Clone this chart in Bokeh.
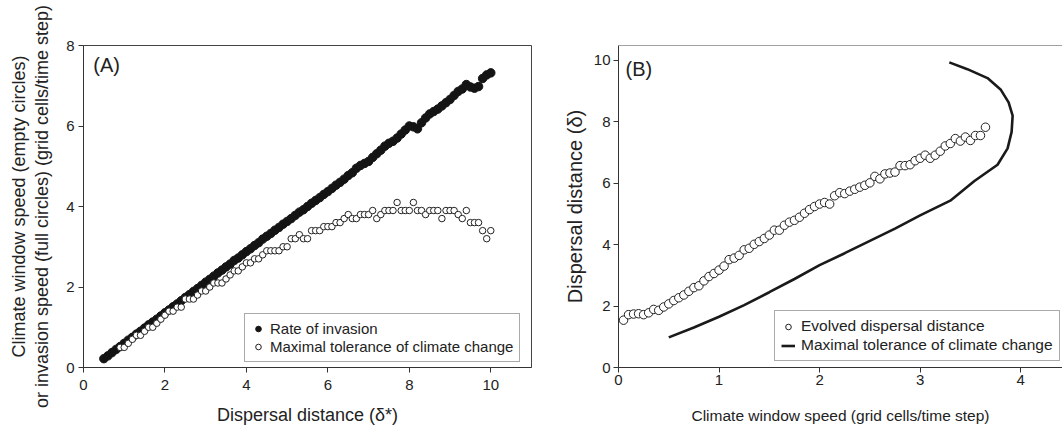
from bokeh.plotting import figure
from bokeh.layouts import row
from bokeh.models import Range1d, Legend, LegendItem, Label, Span, FixedTicker, LinearAxis
from bokeh.embed import file_html
from bokeh.resources import INLINE

FONT = "Liberation Sans"
TXT = "#222222"

# ---------------- Panel A data ----------------
full_x = [0.5, 0.6, 0.7, 0.8, 0.9, 1.0, 1.1, 1.2, 1.3, 1.4, 1.5, 1.6, 1.7, 1.8, 1.9, 2.0,
          2.1, 2.2, 2.3, 2.4, 2.5, 2.6, 2.7, 2.8, 2.9, 3.0, 3.1, 3.2, 3.3, 3.4, 3.5, 3.6,
          3.7, 3.8, 3.9, 4.0, 4.1, 4.2, 4.3, 4.4, 4.5, 4.6, 4.7, 4.8, 4.9, 5.0, 5.1, 5.2,
          5.3, 5.4, 5.5, 5.6, 5.7, 5.8, 5.9, 6.0, 6.1, 6.2, 6.3, 6.4, 6.5, 6.6, 6.7, 6.8,
          6.9, 7.0, 7.1, 7.2, 7.3, 7.4, 7.5, 7.6, 7.7, 7.8, 7.9, 8.0, 8.1, 8.2, 8.3, 8.4,
          8.5, 8.6, 8.7, 8.8, 8.9, 9.0, 9.1, 9.2, 9.3, 9.4, 9.5, 9.6, 9.7, 9.8, 9.9, 10.0]
full_y = [0.22, 0.29, 0.37, 0.45, 0.52, 0.60, 0.68, 0.75, 0.83, 0.90,
          0.98, 1.06, 1.13, 1.20, 1.28, 1.36, 1.43, 1.51, 1.58, 1.66,
          1.74, 1.81, 1.89, 1.96, 2.04, 2.12, 2.19, 2.27, 2.35, 2.42,
          2.50, 2.57, 2.66, 2.72, 2.80, 2.88, 2.95, 3.03, 3.10, 3.19,
          3.26, 3.33, 3.41, 3.48, 3.56, 3.63, 3.70, 3.78, 3.86, 3.92,
          4.00, 4.08, 4.15, 4.22, 4.30, 4.37, 4.45, 4.53, 4.60, 4.68,
          4.77, 4.84, 4.95, 5.02, 5.07, 5.12, 5.22, 5.31, 5.40, 5.50,
          5.57, 5.62, 5.70, 5.80, 5.90, 6.00, 5.98, 5.93, 6.08, 6.20,
          6.30, 6.36, 6.42, 6.50, 6.58, 6.66, 6.76, 6.86, 6.92, 7.03,
          6.97, 6.94, 6.98, 7.18, 7.27, 7.32]

open_x = [0.9, 1.0, 1.1, 1.2, 1.3, 1.4, 1.5, 1.6, 1.7, 1.8, 1.9, 2.0, 2.1, 2.2, 2.3, 2.4,
          2.5, 2.6, 2.7, 2.8, 2.9, 3.0, 3.1, 3.2, 3.3, 3.4, 3.5, 3.6, 3.7, 3.8, 3.9, 4.0,
          4.1, 4.2, 4.3, 4.4, 4.5, 4.6, 4.7, 4.8, 4.9, 5.0, 5.1, 5.2, 5.3, 5.4, 5.5, 5.6,
          5.7, 5.8, 5.9, 6.0, 6.1, 6.2, 6.3, 6.4, 6.5, 6.6, 6.7, 6.8, 6.9, 7.0, 7.1, 7.2,
          7.3, 7.4, 7.5, 7.6, 7.7, 7.8, 7.9, 8.0, 8.1, 8.2, 8.3, 8.4, 8.5, 8.6, 8.7, 8.8,
          8.9, 9.0, 9.1, 9.2, 9.3, 9.4, 9.5, 9.6, 9.7, 9.8, 9.9, 10.0]
open_y = [0.5, 0.5, 0.6, 0.7, 0.8, 0.8, 0.9, 1.0, 1.0, 1.1,
          1.2, 1.3, 1.4, 1.4, 1.5, 1.5, 1.7, 1.7, 1.7, 1.8,
          1.9, 1.9, 2.0, 2.1, 2.1, 2.1, 2.2, 2.3, 2.4, 2.4,
          2.5, 2.6, 2.6, 2.7, 2.7, 2.8, 2.9, 2.9, 2.9, 2.9,
          3.0, 3.0, 3.2, 3.2, 3.3, 3.2, 3.2, 3.4, 3.4, 3.4,
          3.5, 3.5, 3.5, 3.6, 3.6, 3.7, 3.8, 3.7, 3.7, 3.8,
          3.8, 3.8, 3.9, 3.7, 3.8, 3.9, 3.9, 3.9, 4.1, 3.9,
          3.9, 3.9, 4.1, 3.9, 3.9, 3.8, 3.9, 3.9, 3.9, 3.7,
          3.9, 3.9, 3.9, 3.8, 3.7, 3.9, 3.6, 3.6, 3.6, 3.4,
          3.2, 3.4]

a_xticks = [0, 2, 4, 6, 8, 10]
a_yticks = [0, 2, 4, 6, 8]

# ---------------- Panel B data ----------------
evo_speed = [0.05, 0.10, 0.15, 0.20, 0.25, 0.30, 0.35, 0.40, 0.45, 0.50,
             0.55, 0.60, 0.65, 0.70, 0.75, 0.80, 0.85, 0.90, 0.95, 1.00,
             1.05, 1.10, 1.15, 1.20, 1.25, 1.30, 1.35, 1.40, 1.45, 1.50,
             1.55, 1.60, 1.65, 1.70, 1.75, 1.80, 1.85, 1.90, 1.95, 2.00,
             2.05, 2.10, 2.15, 2.20, 2.25, 2.30, 2.35, 2.40, 2.45, 2.50,
             2.55, 2.60, 2.65, 2.70, 2.75, 2.80, 2.85, 2.90, 2.95, 3.00,
             3.05, 3.10, 3.15, 3.20, 3.25, 3.30, 3.35, 3.40, 3.45, 3.50,
             3.55, 3.60, 3.65]
evo_delta = [1.54, 1.72, 1.74, 1.75, 1.72, 1.78, 1.89, 1.86, 1.97, 2.07,
             2.18, 2.27, 2.36, 2.48, 2.60, 2.66, 2.82, 2.96, 3.06, 3.17,
             3.30, 3.51, 3.56, 3.65, 3.83, 3.88, 4.01, 4.10, 4.20, 4.31,
             4.47, 4.47, 4.63, 4.73, 4.79, 4.89, 5.02, 5.14, 5.24, 5.32,
             5.37, 5.32, 5.59, 5.69, 5.66, 5.74, 5.80, 5.87, 5.93, 6.01,
             6.22, 6.14, 6.30, 6.33, 6.36, 6.57, 6.57, 6.60, 6.73, 6.81,
             6.91, 6.81, 6.91, 7.04, 7.21, 7.29, 7.45, 7.37, 7.50, 7.39,
             7.55, 7.55, 7.82]

tol_speed = [0.50, 0.75, 1.00, 1.25, 1.50, 1.75, 2.00, 2.25, 2.50, 2.75, 3.00,
             3.30, 3.54, 3.77, 3.87, 3.91, 3.92, 3.88, 3.80, 3.67, 3.47, 3.29]
tol_delta = [0.98, 1.30, 1.65, 2.03, 2.45, 2.88, 3.33, 3.72, 4.12, 4.52, 4.95,
             5.43, 6.07, 6.60, 7.13, 7.67, 8.20, 8.63, 9.05, 9.42, 9.71, 9.93]

b_xticks = [0, 1, 2, 3, 4]
b_yticks = [0, 2, 4, 6, 8, 10]

ylabel_a_line1 = "Climate window speed (empty circles)"
ylabel_a_line2 = "or invasion speed (full circles) (grid cells/time step)"


def style_axis(ax, tick_size, label_size):
    ax.axis_line_color = "#333333"
    ax.axis_line_width = 1
    ax.major_tick_line_color = "#333333"
    ax.major_tick_out = 5
    ax.major_tick_in = 0
    ax.minor_tick_line_color = None
    ax.major_label_text_font = FONT
    ax.major_label_text_font_size = tick_size
    ax.major_label_text_color = TXT
    ax.axis_label_text_font = FONT
    ax.axis_label_text_font_size = label_size
    ax.axis_label_text_color = TXT
    ax.axis_label_text_font_style = "normal"


def base(p):
    p.xgrid.visible = False
    p.ygrid.visible = False
    p.background_fill_color = "white"
    p.border_fill_color = "white"


# ---------------- Panel A ----------------
pA = figure(width=560, height=427, x_range=Range1d(0, 11), y_range=Range1d(0, 8),
            output_backend="svg", toolbar_location=None,
            min_border_left=83, min_border_right=29, min_border_top=45, min_border_bottom=59)
base(pA)
style_axis(pA.xaxis[0], "15px", "18px")
style_axis(pA.yaxis[0], "15px", "18px")
pA.xaxis[0].ticker = FixedTicker(ticks=a_xticks)
pA.yaxis[0].ticker = FixedTicker(ticks=a_yticks)
pA.xaxis[0].major_label_standoff = 7
pA.yaxis[0].major_label_standoff = 4
pA.xaxis[0].axis_label = "Dispersal distance (\u03b4*)"
pA.yaxis[0].axis_label = ylabel_a_line2
pA.xaxis[0].axis_label_standoff = 12
pA.yaxis[0].axis_label_standoff = 11

# first line of the y title, as an extra tick-less axis further left
extra = LinearAxis(axis_label=ylabel_a_line1, ticker=FixedTicker(ticks=[]))
style_axis(extra, "1px", "18px")
extra.axis_line_color = None
extra.major_tick_out = 0
extra.major_label_standoff = 0
extra.axis_label_standoff = 1
pA.add_layout(extra, "left")

pA.outline_line_color = "#444444"
pA.outline_line_width = 1
pA.outline_line_alpha = 1

rA_full = pA.scatter(full_x, full_y, marker="circle", size=8.5,
                     fill_color="#141414", line_color="#141414", line_width=1)
rA_open = pA.scatter(open_x, open_y, marker="circle", size=6.5,
                     fill_color="white", line_color="#222222", line_width=1)

legA = Legend(items=[LegendItem(label="Rate of invasion", renderers=[rA_full]),
                     LegendItem(label="Maximal tolerance of climate change", renderers=[rA_open])],
              location=(161, 5))
legA.label_text_font = FONT
legA.label_text_font_size = "15px"
legA.label_text_color = TXT
legA.border_line_color = "#555555"
legA.border_line_width = 1
legA.background_fill_alpha = 1
legA.padding = 6
legA.spacing = 1
legA.glyph_width = 14
legA.glyph_height = 17
legA.label_height = 17
legA.label_standoff = 5
legA.margin = 0
pA.add_layout(legA)

pA.add_layout(Label(x=0.24, y=7.52, text="(A)", text_font=FONT, text_font_size="20px",
                    text_color=TXT, text_baseline="middle", text_align="left"))

# ---------------- Panel B ----------------
pB = figure(width=502, height=427, x_range=Range1d(0, 4.416), y_range=Range1d(0, 10.48),
            output_backend="svg", toolbar_location=None,
            min_border_left=56, min_border_right=0, min_border_top=42, min_border_bottom=57)
base(pB)
style_axis(pB.xaxis[0], "15px", "15.5px")
style_axis(pB.yaxis[0], "15px", "20px")
pB.xaxis[0].ticker = FixedTicker(ticks=b_xticks)
pB.yaxis[0].ticker = FixedTicker(ticks=b_yticks)
pB.xaxis[0].major_label_standoff = 2
pB.yaxis[0].major_label_standoff = 3
pB.xaxis[0].axis_label = "Climate window speed (grid cells/time step)"
pB.yaxis[0].axis_label = "Dispersal distance (\u03b4)"
pB.xaxis[0].axis_label_standoff = 19
pB.yaxis[0].axis_label_standoff = 5
pB.outline_line_color = None
pB.add_layout(Span(location=10.48, dimension="width", line_color="#444444", line_width=1))

rB_line = pB.line(tol_speed, tol_delta, line_width=2.6, line_color="#1a1a1a")
rB_evo = pB.scatter(evo_speed, evo_delta, marker="circle", size=8.5,
                    fill_color="white", line_color="#222222", line_width=1)

legB = Legend(items=[LegendItem(label="Evolved dispersal distance", renderers=[rB_evo]),
                     LegendItem(label="Maximal tolerance of climate change", renderers=[rB_line])],
              location=(156, 6))
legB.label_text_font = FONT
legB.label_text_font_size = "15.5px"
legB.label_text_color = TXT
legB.border_line_color = "#555555"
legB.border_line_width = 1
legB.background_fill_alpha = 1
legB.padding = 6
legB.spacing = 1
legB.glyph_width = 14
legB.glyph_height = 17
legB.label_height = 17
legB.label_standoff = 6
legB.margin = 0
pB.add_layout(legB)

pB.add_layout(Label(x=0.07, y=9.71, text="(B)", text_font=FONT, text_font_size="20px",
                    text_color=TXT, text_baseline="middle", text_align="left"))

layout = row(pA, pB)
open("out.html", "w").write(file_html(layout, INLINE))
